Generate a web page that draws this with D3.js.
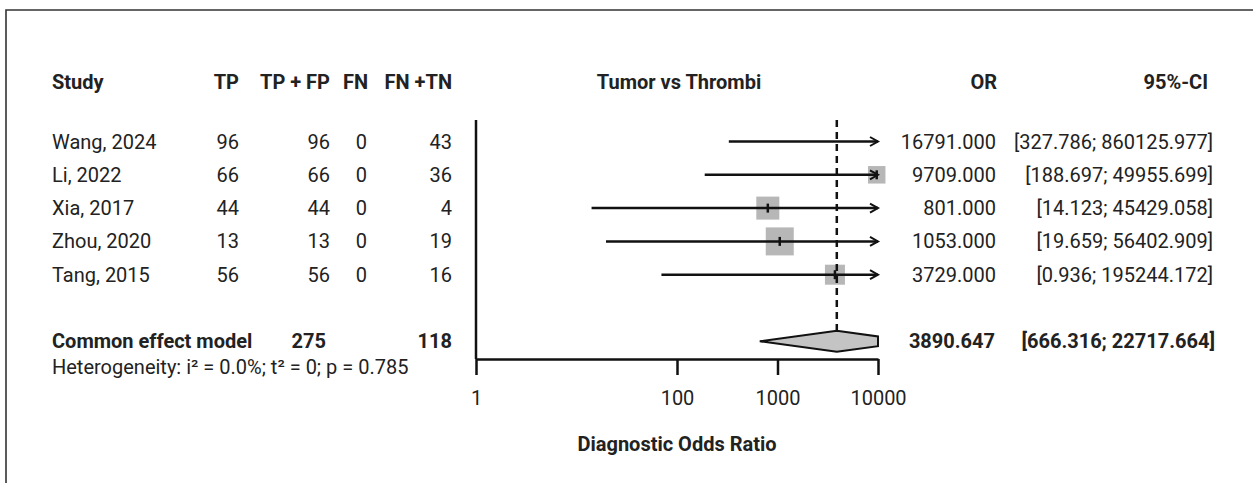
<!DOCTYPE html>
<html>
<head>
<meta charset="utf-8">
<script src="https://cdn.jsdelivr.net/npm/d3@7"></script>
<style>
  html, body { margin: 0; padding: 0; background: #fff; }
  svg { display: block; }
  text { font-family: Roboto, "Liberation Sans", Arial, sans-serif; fill: #222; }
</style>
</head>
<body>
<svg id="chart" width="1253" height="483"></svg>
<script>
// ---------------- data ----------------
const studies = ["Wang, 2024", "Li, 2022", "Xia, 2017", "Zhou, 2020", "Tang, 2015"];
const tp      = [96, 66, 44, 13, 56];
const tpfp    = [96, 66, 44, 13, 56];
const fn      = [0, 0, 0, 0, 0];
const fntn    = [43, 36, 4, 19, 16];
const orVals  = [16791.000, 9709.000, 801.000, 1053.000, 3729.000];
const ciLow   = [327.786, 188.697, 14.123, 19.659, 0.936];
const ciHigh  = [860125.977, 49955.699, 45429.058, 56402.909, 195244.172];
// lower end of each CI line as drawn in the picture (Tang's line starts near 70)
const lineLow = [327.786, 188.697, 14.123, 19.659, 70];
const weights = [14.2, 13.0, 22.5, 33.3, 17.0];
const pooledOR   = 3890.647;
const pooledLow  = 666.316;
const pooledHigh = 22717.664;
const heterogeneity = "Heterogeneity: i\u00B2 = 0.0%; t\u00B2 = 0; p = 0.785";
const tickValues = [1, 100, 1000, 10000];
const headers = ["Study", "TP", "TP + FP", "FN", "FN +TN", "Tumor vs Thrombi", "OR", "95%-CI"];
const summaryLabel = "Common effect model";
const axisTitle = "Diagnostic Odds Ratio";

// ---------------- layout ----------------
const W = 1253, H = 483;
const FS = 20;
const svg = d3.select("#chart");
const fmt = d3.format(".3f");

// frame (top + left edges)
svg.append("path").attr("d", `M6,${H} L6,10 L${W},10`)
  .attr("fill", "none").attr("stroke", "#333").attr("stroke-width", 1.6);

const x = d3.scaleLog().domain([1, 10000]).range([476, 878]);
const row = d3.scaleLinear().domain([0, 6]).range([141.5, 341.3]);
const size = d3.scaleSqrt().domain([0, 33.3]).range([0, 28]);
const headerY = 82;
const axisY = 359;
const plotTop = 120;

const cols = {
  study: {x: 52, anchor: "start"},
  tp: {x: 239, anchor: "end"},
  tpfp: {x: 330, anchor: "end"},
  fn: {x: 367, anchor: "end"},
  fntn: {x: 452, anchor: "end"},
  or: {x: 996, anchor: "end"},
  ci: {x: 1213, anchor: "end"}
};

function txt(s, xPos, yPos, anchor, bold) {
  svg.append("text").attr("x", xPos).attr("y", yPos).attr("dy", "0.35em")
    .attr("text-anchor", anchor).attr("font-size", FS)
    .attr("font-weight", bold ? "bold" : "normal").text(s);
}

// headers
txt(headers[0], cols.study.x, headerY, "start", true);
txt(headers[1], cols.tp.x, headerY, "end", true);
txt(headers[2], cols.tpfp.x, headerY, "end", true);
txt(headers[3], 368, headerY, "end", true);
txt(headers[4], cols.fntn.x, headerY, "end", true);
txt(headers[5], (x.range()[0] + x.range()[1]) / 2 + 2, headerY, "middle", true);
txt(headers[6], 997, headerY, "end", true);
txt(headers[7], 1208, headerY, "end", true);

// study rows text
studies.forEach((s, i) => {
  const y = row(i);
  txt(s, cols.study.x, y, "start", false);
  txt(tp[i], cols.tp.x, y, "end", false);
  txt(tpfp[i], cols.tpfp.x, y, "end", false);
  txt(fn[i], cols.fn.x, y, "end", false);
  txt(fntn[i], cols.fntn.x, y, "end", false);
  txt(fmt(orVals[i]), cols.or.x, y, "end", false);
  txt(`[${fmt(ciLow[i])}; ${fmt(ciHigh[i])}]`, cols.ci.x, y, "end", false);
});

// summary row
const ySum = row(6);
txt(summaryLabel, cols.study.x, ySum, "start", true);
txt(d3.sum(tpfp), 326, ySum, "end", true);
txt(d3.sum(fntn), cols.fntn.x, ySum, "end", true);
txt(fmt(pooledOR), 995, ySum, "end", true);
txt(`[${fmt(pooledLow)}; ${fmt(pooledHigh)}]`, 1215, ySum, "end", true);
txt(heterogeneity, cols.study.x, 367, "start", false);

// ---------------- plot ----------------
const g = svg.append("g");
const [xmin, xmax] = x.domain();

// null line at OR = 1
g.append("line").attr("x1", x(1)).attr("x2", x(1)).attr("y1", plotTop).attr("y2", axisY)
  .attr("stroke", "#111").attr("stroke-width", 2.5);

// squares
studies.forEach((s, i) => {
  if (orVals[i] >= xmin && orVals[i] <= xmax) {
    const sz = size(weights[i]);
    g.append("rect").attr("x", x(orVals[i]) - sz / 2).attr("y", row(i) - sz / 2)
      .attr("width", sz).attr("height", sz).attr("fill", "#b7b7b7");
  }
});

// dashed pooled line
const h = 10.5;
g.append("line").attr("x1", x(pooledOR)).attr("x2", x(pooledOR))
  .attr("y1", plotTop).attr("y2", ySum - h)
  .attr("stroke", "#111").attr("stroke-width", 2.5).attr("stroke-dasharray", "7,5");

// CI lines, arrows, point ticks
studies.forEach((s, i) => {
  const y = row(i);
  const lo = Math.max(lineLow[i], xmin), hi = Math.min(ciHigh[i], xmax);
  g.append("line").attr("x1", x(lo)).attr("x2", x(hi)).attr("y1", y).attr("y2", y)
    .attr("stroke", "#111").attr("stroke-width", 2.5);
  if (ciHigh[i] > xmax) {
    const tx = x(xmax);
    g.append("path").attr("d", `M${tx - 8},${y - 4.5} L${tx},${y} L${tx - 8},${y + 4.5}`)
      .attr("fill", "none").attr("stroke", "#111").attr("stroke-width", 2);
  }
  if (orVals[i] >= xmin && orVals[i] <= xmax) {
    g.append("line").attr("x1", x(orVals[i])).attr("x2", x(orVals[i]))
      .attr("y1", y - 4.5).attr("y2", y + 4.5).attr("stroke", "#111").attr("stroke-width", 2.5);
  }
});

// diamond clipped at the axis limit
{
  const xl = x(pooledLow), xe = x(pooledOR), xu = x(pooledHigh), xc = x(xmax);
  const pts = [[xl, ySum], [xe, ySum - h]];
  if (xu > xc) {
    const hc = h * (xu - xc) / (xu - xe);
    pts.push([xc, ySum - hc], [xc, ySum + hc]);
  } else {
    pts.push([xu, ySum]);
  }
  pts.push([xe, ySum + h]);
  g.append("polygon").attr("points", pts.map(p => p.join(",")).join(" "))
    .attr("fill", "#c4c4c4").attr("stroke", "#111").attr("stroke-width", 2);
}

// axis
const axis = d3.axisBottom(x).tickValues(tickValues).tickFormat(d3.format("d"))
  .tickSize(16).tickSizeOuter(0).tickPadding(16);
const ax = svg.append("g").attr("transform", `translate(0,${axisY})`).call(axis);
ax.select(".domain").attr("stroke", "#111").attr("stroke-width", 2.5);
ax.selectAll(".tick line").attr("stroke", "#111").attr("stroke-width", 2.5);
ax.selectAll(".tick text").attr("font-size", FS).attr("fill", "#222")
  .attr("font-family", "Roboto, 'Liberation Sans', Arial, sans-serif");

svg.append("text").attr("x", 677).attr("y", 444).attr("dy", "0.35em")
  .attr("text-anchor", "middle").attr("font-size", FS).attr("font-weight", "bold")
  .text(axisTitle);
</script>
</body>
</html>
